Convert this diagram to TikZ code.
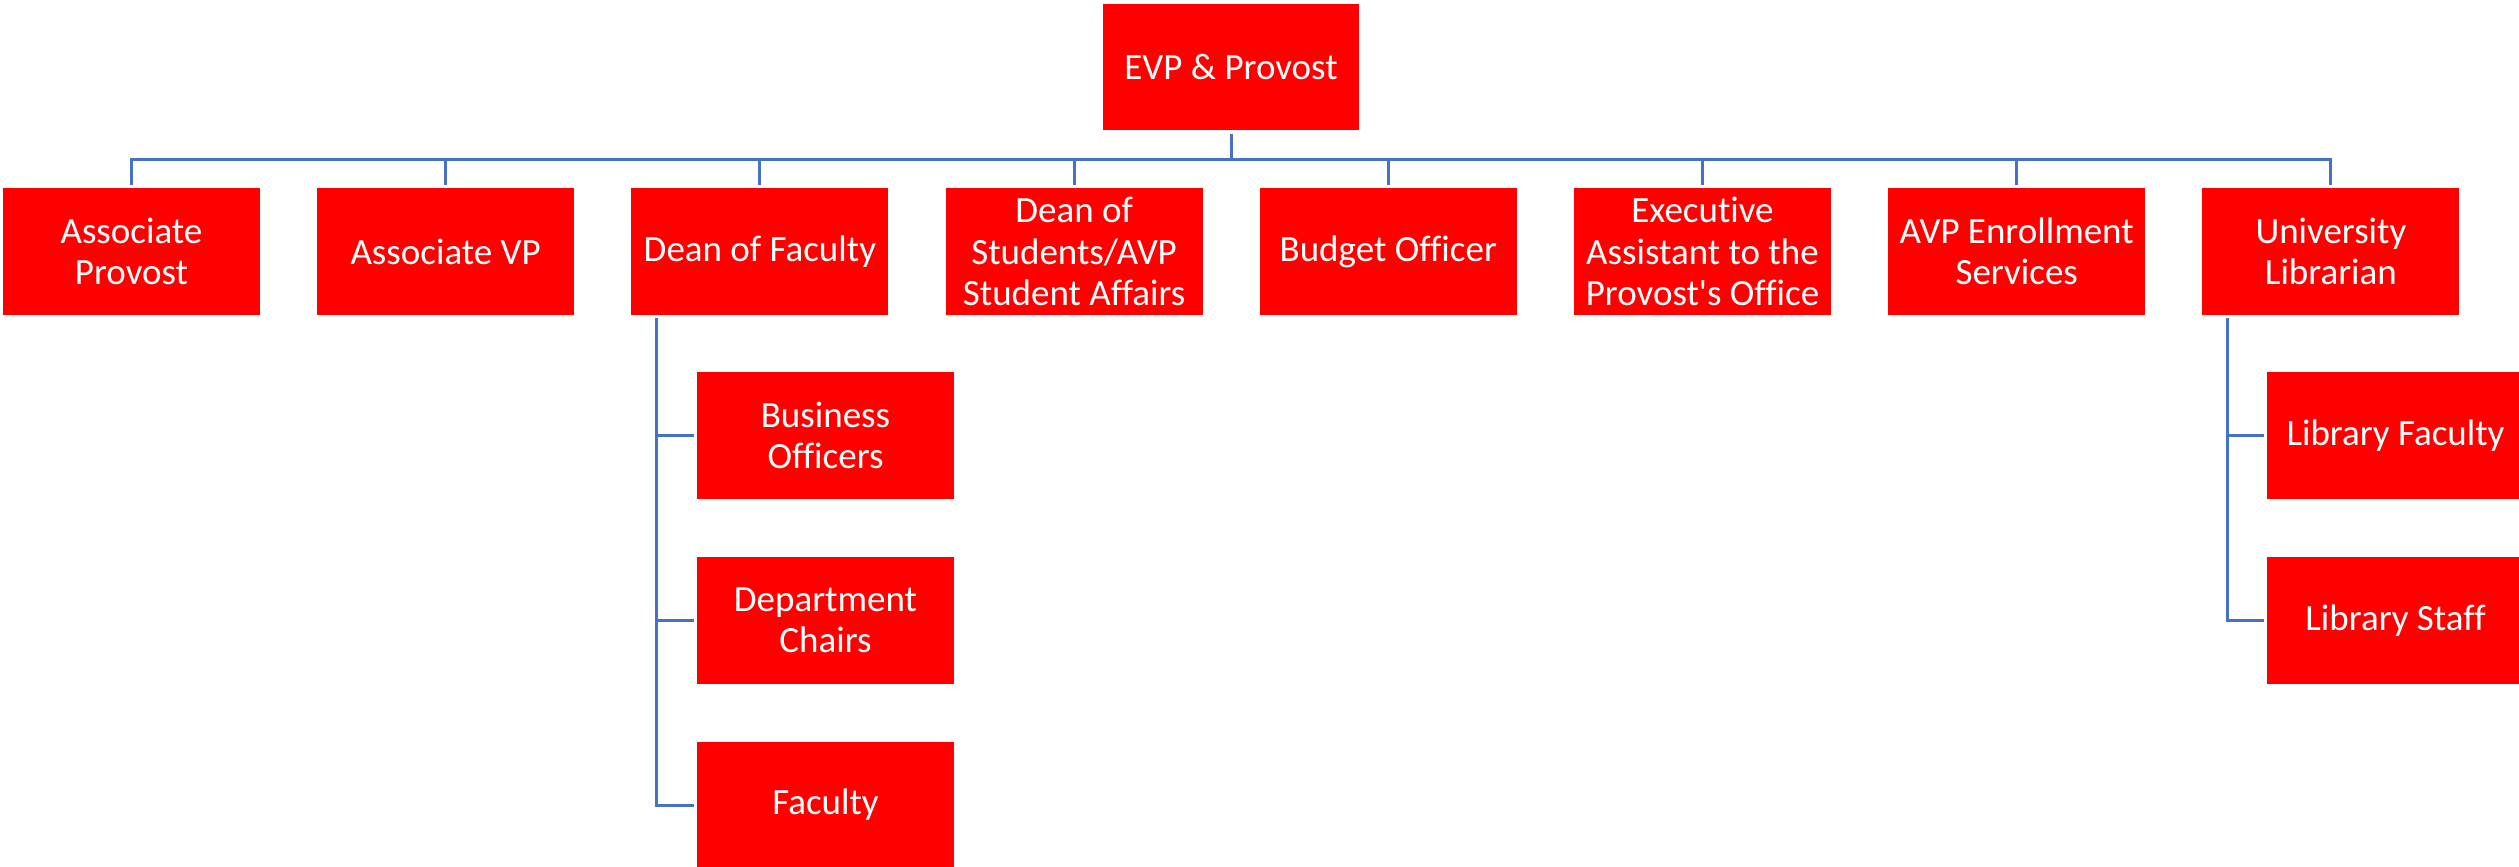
\documentclass[tikz,border=0pt]{standalone}
\usepackage{fontspec}
\setmainfont{Carlito}[Ligatures={NoCommon}]
\definecolor{boxred}{HTML}{FF0000}
\definecolor{linkblue}{HTML}{4472C4}
\begin{document}
\begin{tikzpicture}[x=1pt,y=-1pt,
  orgbox/.style={rectangle,fill=boxred,draw=none,text=white,align=center,
    minimum width=257pt,minimum height=127pt,inner sep=0pt,
    font=\fontsize{37}{41.5}\selectfont},
  conn/.style={draw=linkblue,line width=3pt}]
\useasboundingbox (0,0) rectangle (2519,867);
\node[orgbox,minimum width=256pt,minimum height=126pt] (top) at (1231,67) {EVP \& Provost};
\node[orgbox] (n1) at (131.5,251.5) {Associate\\Provost};
\node[orgbox] (n2) at (445.7,251.5) {Associate VP};
\node[orgbox] (n3) at (759.9,251.5) {Dean of Faculty};
\node[orgbox] (n4) at (1074.1,251.5) {Dean of\\Students/AVP\\Student Affairs};
\node[orgbox] (n5) at (1388.3,251.5) {Budget Officer};
\node[orgbox] (n6) at (1702.5,251.5) {Executive\\Assistant to the\\Provost\textquotesingle s Office};
\node[orgbox] (n7) at (2016.7,251.5) {AVP Enrollment\\Services};
\node[orgbox] (n8) at (2330.9,251.5) {University\\Librarian};
\node[orgbox] (bo) at (825.5,435.5) {Business\\Officers};
\node[orgbox] (dc) at (825.5,620.5) {Department\\Chairs};
\node[orgbox] (fa) at (825.5,805) {Faculty};
\node[orgbox] (lf) at (2395.5,435.5) {Library Faculty};
\node[orgbox] (ls) at (2395.5,620.5) {Library Staff};
\coordinate (bus) at (1231,159);
\draw[conn,shorten <=4pt] (top.south) -- (bus);
\foreach \n in {n1,n2,n3,n4,n5,n6,n7,n8}
  \draw[conn,shorten >=3pt] (bus) -| (\n.north);
\coordinate (dv) at ([xshift=25pt,yshift=-3pt]n3.south west);
\foreach \c in {bo,dc,fa}
  \draw[conn,shorten >=3pt] (dv) |- (\c.west);
\coordinate (lv) at ([xshift=25pt,yshift=-3pt]n8.south west);
\foreach \c in {lf,ls}
  \draw[conn,shorten >=3pt] (lv) |- (\c.west);
\end{tikzpicture}
\end{document}
